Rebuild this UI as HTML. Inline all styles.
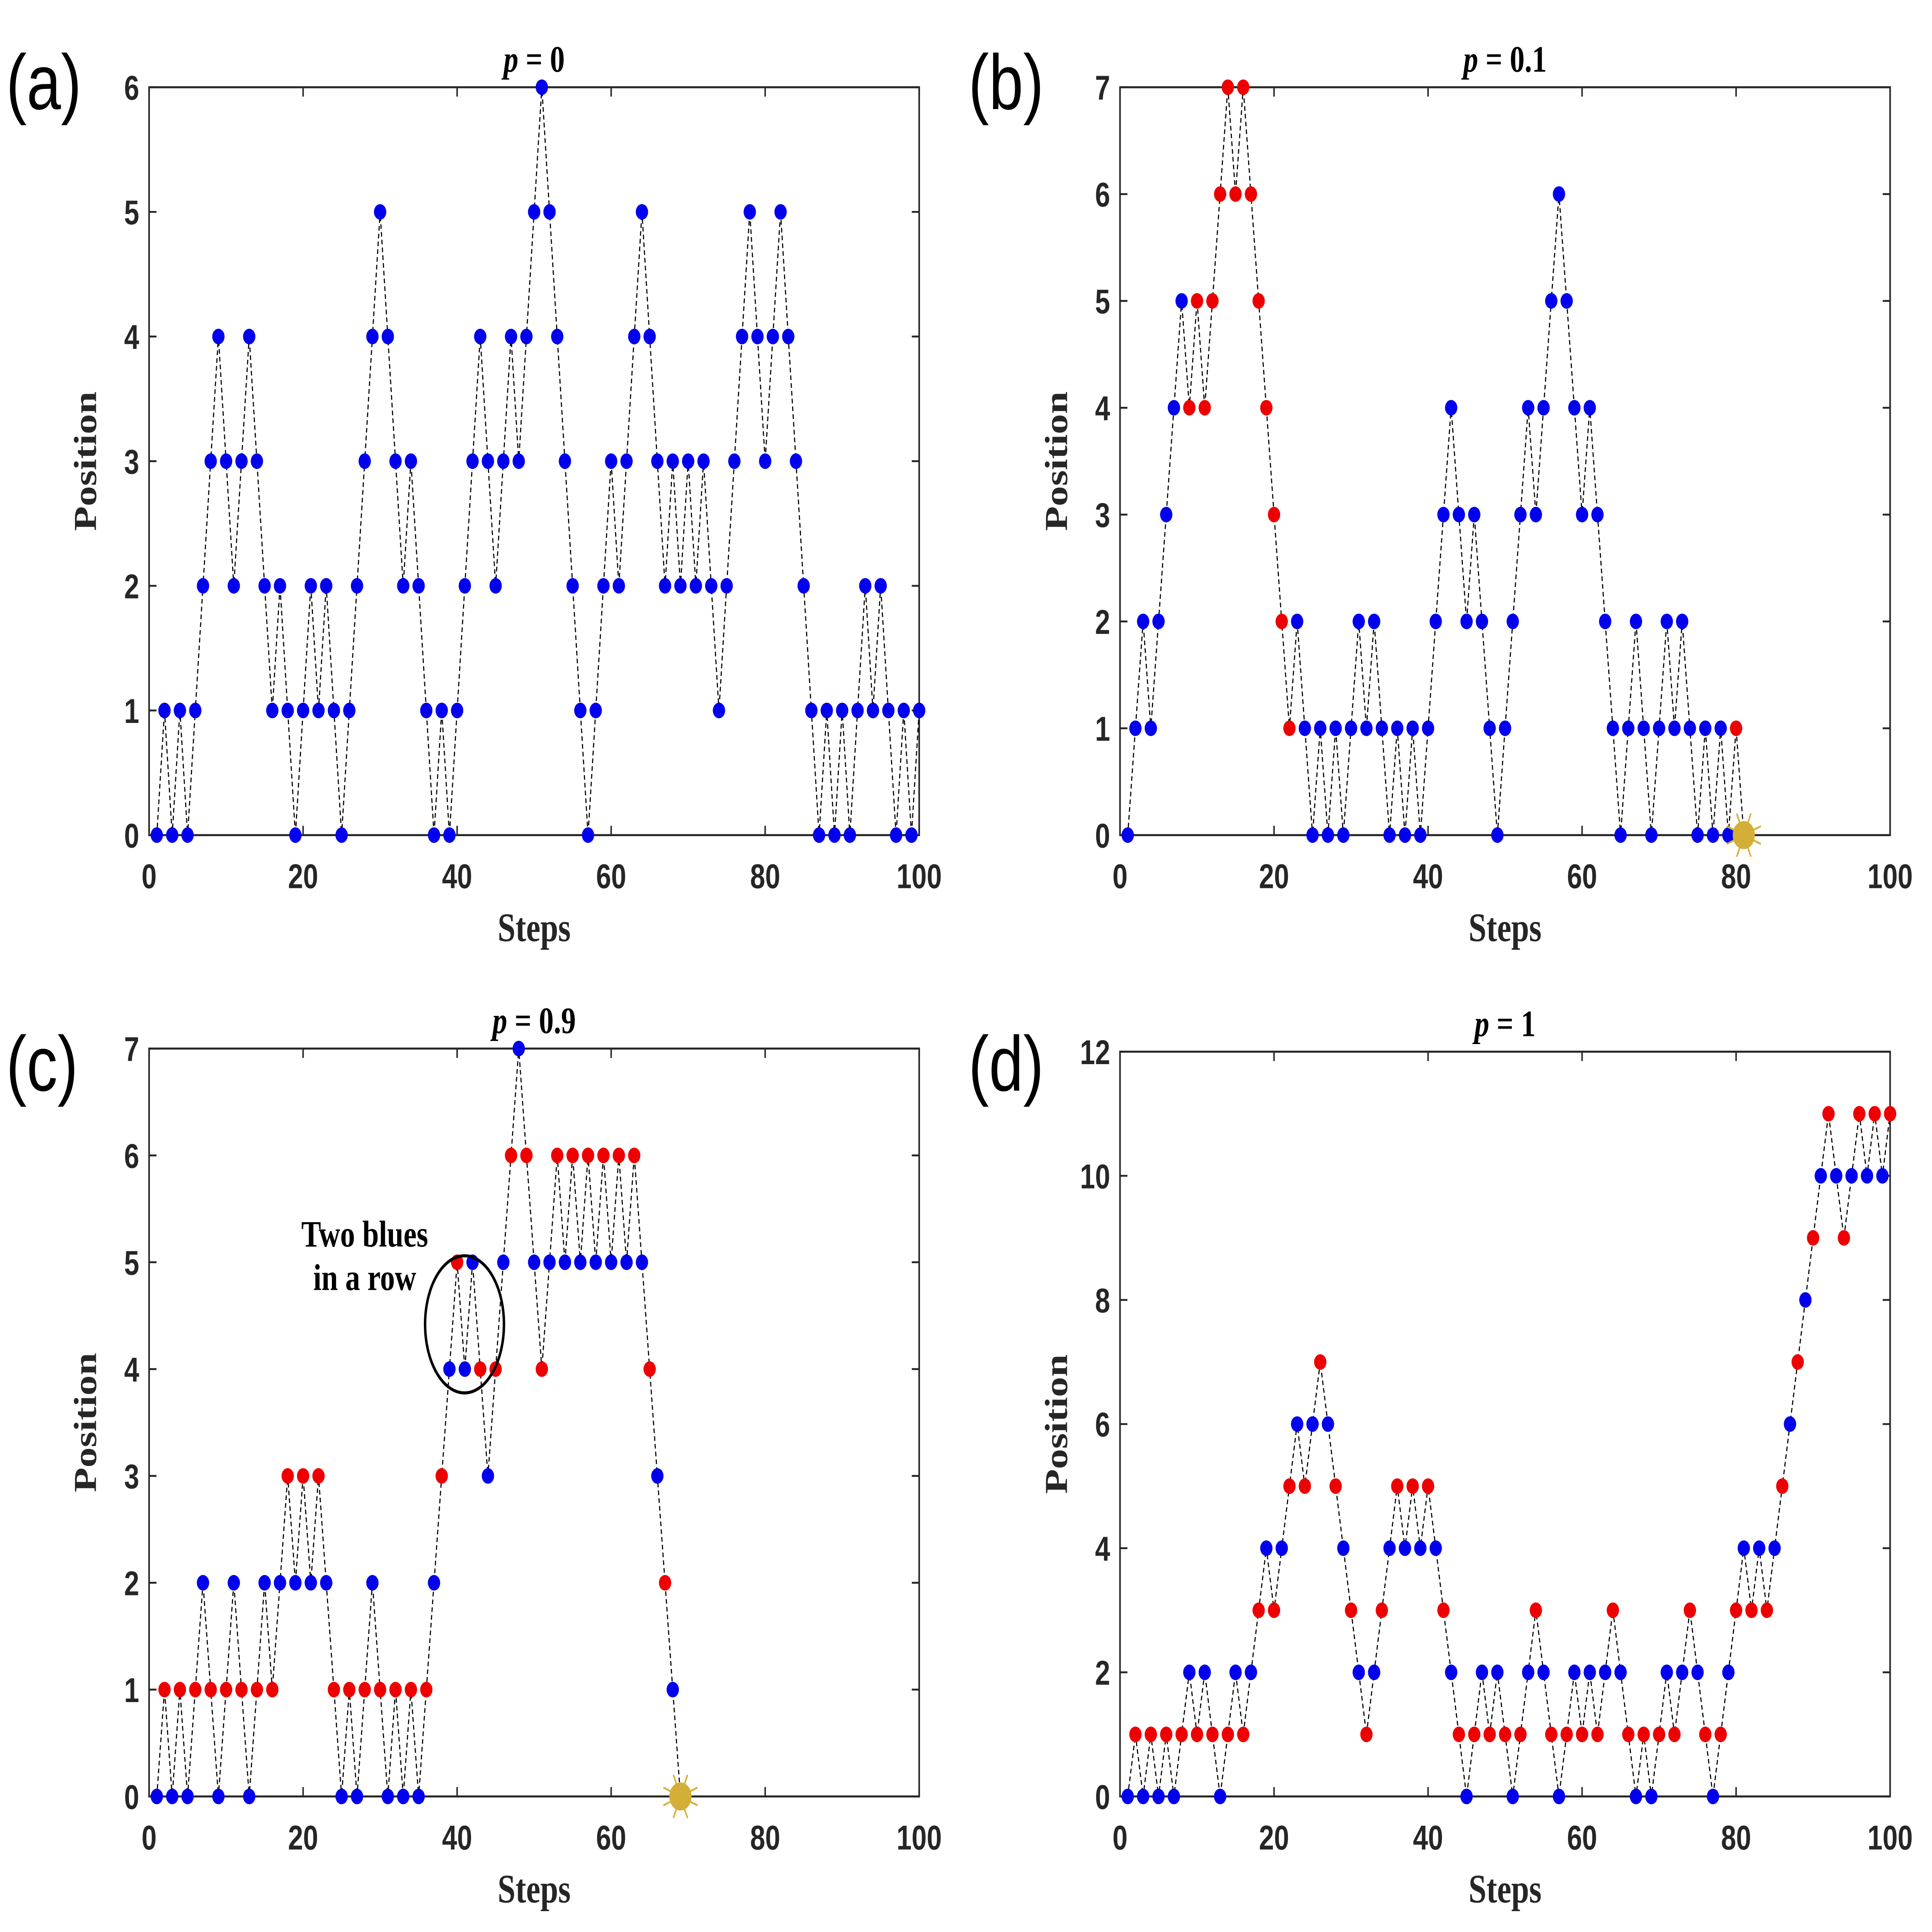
<!DOCTYPE html>
<html><head><meta charset="utf-8"><style>
html,body{margin:0;padding:0;background:#fff;width:100%;height:100%;overflow:hidden;}
svg{display:block;width:100vw;height:100vh;}
.tick{font-family:"Liberation Sans",sans-serif;font-weight:bold;font-size:22px;fill:#262626;}
.lab{font-family:"Liberation Serif",serif;font-weight:bold;font-size:26px;fill:#262626;}
.ttl{font-family:"Liberation Serif",serif;font-weight:bold;font-size:24px;fill:#000;}
.pl{font-family:"Liberation Sans",sans-serif;font-size:50px;fill:#000;}
</style></head><body>
<svg id="fig" viewBox="0 0 1568 1240" preserveAspectRatio="none" xmlns="http://www.w3.org/2000/svg">
<g id="root"></g>
</svg>
<script>
// Panel (a) p=0
const posA=[0,1,0,1,0,1,2,3,4,3,2,3,4,3,2,1,2,1,0,1,2,1,2,1,0,1,2,3,4,5,4,3,2,3,2,1,0,1,0,1,2,3,4,3,2,3,4,3,4,5,6,5,4,3,2,1,0,1,2,3,2,3,4,5,4,3,2,3,2,3,2,3,2,1,2,3,4,5,4,3,4,5,4,3,2,1,0,1,0,1,0,1,2,1,2,1,0,1,0,1];
const colA="B".repeat(100);
// Panel (b) p=0.1
const posB=[0,1,2,1,2,3,4,5,4,5,4,5,6,7,6,7,6,5,4,3,2,1,2,1,0,1,0,1,0,1,2,1,2,1,0,1,0,1,0,1,2,3,4,3,2,3,2,1,0,1,2,3,4,3,4,5,6,5,4,3,4,3,2,1,0,1,2,1,0,1,2,1,2,1,0,1,0,1,0,1];
const colB="BBBBBBBBRRRRRRRRRRRRRRBBBBBBBBBBBBBBBBBBBBBBBBBBBBBBBBBBBBBBBBBBBBBBBBBBBBBBBBBR";
const endB=[81,0];
// Panel (c) p=0.9
const posC=[0,1,0,1,0,1,2,1,0,1,2,1,0,1,2,1,2,3,2,3,2,3,2,1,0,1,0,1,2,1,0,1,0,1,0,1,2,3,4,5,4,5,4,3,4,5,6,7,6,5,4,5,6,5,6,5,6,5,6,5,6,5,6,5,4,3,2,1];
const colC="BRBRBRBRBRBRBRBRBRBRBRBRBRBRBRBRBRBRBRBRBBRBRBRBRBRBRBRBRBRBRBRBRBRB";
const endC=[69,0];
// Panel (d) p=1
const posD=[0,1,0,1,0,1,0,1,2,1,2,1,0,1,2,1,2,3,4,3,4,5,6,5,6,7,6,5,4,3,2,1,2,3,4,5,4,5,4,5,4,3,2,1,0,1,2,1,2,1,0,1,2,3,2,1,0,1,2,1,2,1,2,3,2,1,0,1,0,1,2,1,2,3,2,1,0,1,2,3,4,3,4,3,4,5,6,7,8,9,10,11,10,9,10,11,10,11,10,11];
const colD="BR".repeat(50);
const xTicks=[0,20,40,60,80,100];
const yTicksA=[0,1,2,3,4,5,6], yTicksB=[0,1,2,3,4,5,6,7], yTicksD=[0,2,4,6,8,10,12];

const NS="http://www.w3.org/2000/svg";
const root=document.getElementById('root');
function mk(tag,attrs,parent){const e=document.createElementNS(NS,tag);for(const k in attrs)e.setAttribute(k,attrs[k]);(parent||root).appendChild(e);return e;}
const COL={B:'#0000ee',R:'#ee0000'};

function panel(id,box,ymax,yticks,pos,col,end,title,letter,lx,ly){
  const g=mk('g',{});
  
  
  const [x0,x1,yTop,yBot]=box;
  const sx=v=>x0+(x1-x0)*v/100, sy=v=>yBot-(yBot-yTop)*v/ymax;
  const frame=mk('rect',{x:x0,y:yTop,width:x1-x0,height:yBot-yTop,fill:'none',stroke:'#262626','stroke-width':1.3},g);
  
  
  xTicks.forEach(t=>{
    mk('line',{x1:sx(t),x2:sx(t),y1:yBot,y2:yBot-6,stroke:'#262626','stroke-width':1.2},g);
    mk('line',{x1:sx(t),x2:sx(t),y1:yTop,y2:yTop+6,stroke:'#262626','stroke-width':1.2},g);
    const tx=mk('text',{x:sx(t),y:yBot+34,'text-anchor':'middle',class:'tick'},g);tx.textContent=t;
    
    
  });
  yticks.forEach(t=>{
    mk('line',{x1:x0,x2:x0+6,y1:sy(t),y2:sy(t),stroke:'#262626','stroke-width':1.2},g);
    mk('line',{x1:x1,x2:x1-6,y1:sy(t),y2:sy(t),stroke:'#262626','stroke-width':1.2},g);
    const tx=mk('text',{x:x0-8,y:sy(t)+8,'text-anchor':'end',class:'tick'},g);tx.textContent=t;
    
    
  });
  const xl=mk('text',{x:(x0+x1)/2,y:yBot+68,'text-anchor':'middle',class:'lab'},g);xl.textContent='Steps';
  
  
  const yc=(yTop+yBot)/2;
  const yl=mk('text',{x:x0-43,y:yc,'text-anchor':'middle',class:'lab',transform:`rotate(-90 ${x0-43} ${yc})`},g);yl.textContent='Position';
  
  
  const tt=mk('text',{x:(x0+x1)/2,y:yTop-10,'text-anchor':'middle',class:'ttl'},g);
  tt.innerHTML='<tspan font-style="italic">p</tspan> = '+title;
  
  
  const pl=mk('text',{x:lx,y:ly,class:'pl'},g);pl.textContent='('+letter+')';
  
  
  let pts=pos.map((v,i)=>[sx(i+1),sy(v)]);
  if(end) pts.push([sx(end[0]),sy(end[1])]);
  const line=mk('polyline',{points:pts.map(p=>p.join(',')).join(' '),fill:'none',stroke:'#000','stroke-width':0.9,'stroke-dasharray':'3,2'},g);
  
  
  pos.forEach((v,i)=>{
    const c=mk('circle',{cx:sx(i+1),cy:sy(v),r:5,fill:COL[col[i]]},g);
    
    
  });
  if(end){
    const cx=sx(end[0]),cy=sy(end[1]);
    const sg=mk('g',{},g);
    
    
    for(let k=0;k<8;k++){const a=k*Math.PI/4+Math.PI/8;mk('line',{x1:cx,y1:cy,x2:cx+15*Math.cos(a),y2:cy+15*Math.sin(a),stroke:'#d4af37','stroke-width':1.2},sg);}
    mk('circle',{cx:cx,cy:cy,r:9,fill:'#d4af37'},sg);
  }
  return {sx,sy,g};
}
panel('a',[121,746,56,536],6,yTicksA,posA,colA,null,'0','a',5,70);
panel('b',[909,1534,56,536],7,yTicksB,posB,colB,endB,'0.1','b',786,70);
panel('c',[121,746,673,1153],7,yTicksB,posC,colC,endC,'0.9','c',5,700);
panel('d',[909,1534,675,1153],12,yTicksD,posD,colD,null,'1','d',786,700);
// annotation
const el=mk('ellipse',{cx:377,cy:850,rx:32,ry:44,fill:'none',stroke:'#000','stroke-width':2});


const a1=mk('text',{x:296,y:800,'text-anchor':'middle',class:'ttl','font-size':'21'});a1.textContent='Two blues';


const a2=mk('text',{x:296,y:828,'text-anchor':'middle',class:'ttl','font-size':'21'});a2.textContent='in a row';


</script>
</body></html>
